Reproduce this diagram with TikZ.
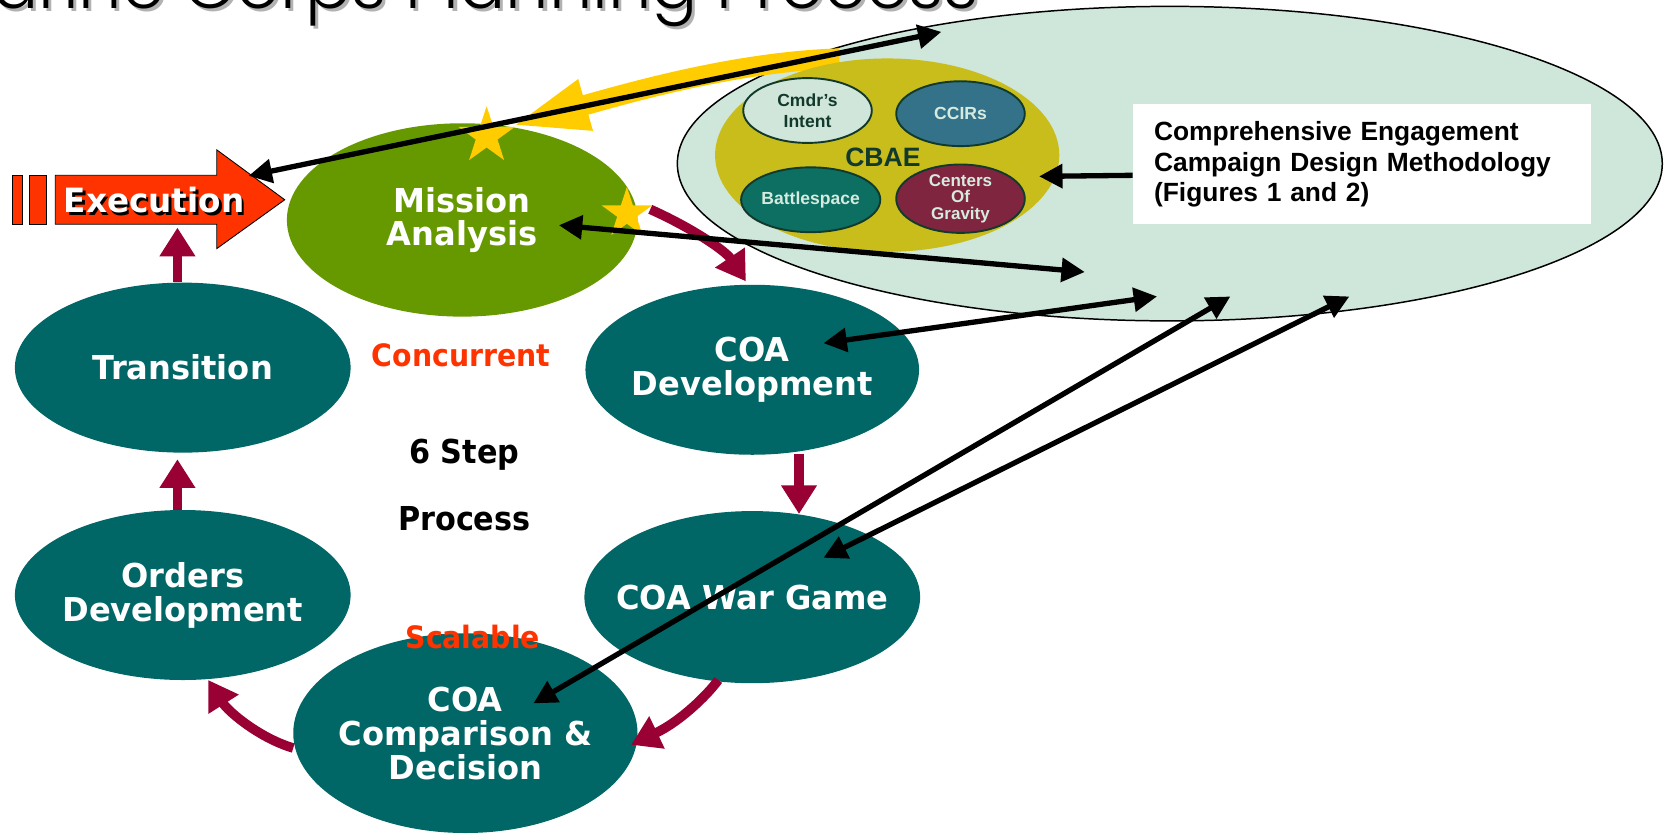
\documentclass[tikz,border=0pt]{standalone}
\usepackage{fontspec}
\usetikzlibrary{shapes.geometric,arrows.meta,calc}
\newfontfamily\nfont[FakeStretch=0.975]{DejaVu Sans}
\newfontfamily\lfont[FakeStretch=0.92]{DejaVu Sans}
\newfontfamily\afont{Liberation Sans}
\newfontfamily\ttlfont{Poppins Light}
\definecolor{cBig}{HTML}{CFE6DA}
\definecolor{cCBAE}{HTML}{C9BD1C}
\definecolor{cCmdr}{HTML}{D0E6DA}
\definecolor{cCCIR}{HTML}{347289}
\definecolor{cBattle}{HTML}{0D6E62}
\definecolor{cCOG}{HTML}{7F2540}
\definecolor{cTeal}{HTML}{006666}
\definecolor{cGreen}{HTML}{669900}
\definecolor{cMaroon}{HTML}{990033}
\definecolor{cRed}{HTML}{FF3300}
\definecolor{cStar}{HTML}{FFCC00}
\definecolor{cDark}{HTML}{123A2C}
\definecolor{cLight}{HTML}{D5EBDF}
\tikzset{
  stepnode/.style={ellipse, fill=cTeal, inner sep=0pt},
  steptext/.style={text=white, align=center, inner sep=0pt,
    font=\nfont\bfseries\fontsize{31}{32}\selectfont},
  subnode/.style={ellipse, draw=cDark, line width=1.8pt, inner sep=0pt,
    minimum width=121pt, minimum height=61pt, align=center},
  blkarr/.style={line width=5pt, draw=black,
    {Triangle[length=22pt,width=22pt]}-{Triangle[length=22pt,width=22pt]}},
  blkone/.style={line width=5pt, draw=black, -{Triangle[length=22pt,width=22pt]}},
  mararr/.style={line width=9pt, draw=cMaroon, -{Triangle[length=27pt,width=32pt]}},
  redlbl/.style={text=cRed, font=\lfont\bfseries\fontsize{29}{30}\selectfont},
  blklbl/.style={text=black, font=\lfont\bfseries\fontsize{31}{32}\selectfont},
  starnode/.style={star, star points=5, star point ratio=2.6, fill=cStar, inner sep=0pt}
}
\begin{document}
\begin{tikzpicture}[x=1pt,y=-1pt]
\useasboundingbox (0,0) rectangle (1568,785);

% title (cut off at the top)
\node[anchor=base west, inner sep=0pt, text=black!30, font=\ttlfont\fontsize{64.5}{66}\selectfont] (titleshadow) at (-59,11) {Marine Corps Planning Process};
\node[anchor=base west, inner sep=0pt, text=black, font=\ttlfont\fontsize{64.5}{66}\selectfont] (title) at (-62,8) {Marine Corps Planning Process};

% big ellipse
\node[ellipse, draw=black, line width=1.4pt, fill=cBig, minimum width=927pt, minimum height=296pt, inner sep=0pt] (big) at (1101,154) {};

% yellow curved arrow
\draw[cStar, line width=19pt, -{Triangle[length=74pt,width=44pt]}] (790,55) .. controls (700,58) and (610,82) .. (480,119);

% CBAE
\node[ellipse, fill=cCBAE, minimum width=324pt, minimum height=182pt, inner sep=0pt] (cbae) at (835,146) {};
\node[text=cDark, font=\afont\bfseries\fontsize{25}{27}\selectfont, inner sep=0pt] (cbaelbl) at (831,148) {CBAE};
\node[subnode, fill=cCmdr, text=cDark, font=\afont\bfseries\fontsize{16.5}{19.5}\selectfont] (cmdr) at (760,104) {Cmdr’s\\Intent};
\node[subnode, fill=cCCIR, text=cLight, font=\afont\bfseries\fontsize{16.5}{18}\selectfont] (ccir) at (904,107) {CCIRs};
\node[subnode, fill=cBattle, text=cLight, font=\afont\bfseries\fontsize{16.5}{17}\selectfont] (battle) at (763,188) {Battlespace};
\node[subnode, fill=cCOG, text=cLight, font=\afont\bfseries\fontsize{16}{15.5}\selectfont] (cog) at (904,187) {Centers\\Of\\Gravity};

% white box
\node[fill=white, anchor=north west, minimum width=431pt, minimum height=113pt, inner xsep=20pt, inner ysep=0pt,
  text width=391pt, align=left, font=\afont\bfseries\fontsize{24.8}{28.5}\selectfont] (box) at (1066,98)
  {Comprehensive Engagement\\Campaign Design Methodology\\(Figures 1 and 2)};

% execution arrow
\draw[fill=cRed, line width=0.8pt] (12,165) rectangle (21,211);
\draw[fill=cRed, line width=0.8pt] (28,165) rectangle (44,211);
\draw[fill=cRed, line width=0.8pt] (52,165) -- (204,165) -- (204,141) -- (268,188) -- (204,234) -- (204,211) -- (52,211) -- cycle;
\node[inner sep=0pt, minimum width=152pt, minimum height=46pt] (execbody) at (128,188) {};
\node[text=black, font=\nfont\bfseries\fontsize{31.5}{32}\selectfont, inner sep=0pt] (execshadow) at (147.5,191) {Execution};
\node[text=white, font=\nfont\bfseries\fontsize{31.5}{32}\selectfont, inner sep=0pt] (exec) at (145,188.5) {Execution};

% mission analysis
\node[ellipse, fill=cGreen, inner sep=0pt, minimum width=330pt, minimum height=182pt] (ma) at (435,207) {};
\node[steptext, font=\nfont\bfseries\fontsize{31}{31}\selectfont] (matext) at (ma) {Mission\\Analysis};

% step nodes
\node[stepnode, minimum width=316pt, minimum height=160pt] (tr) at (172,346) {};
\node[steptext] (trtext) at (tr) {Transition};
\node[stepnode, minimum width=316pt, minimum height=160pt] (od) at (172,560) {};
\node[steptext] (odtext) at (od) {Orders\\Development};
\node[stepnode, minimum width=314pt, minimum height=160pt] (cd) at (708,348) {};
\node[steptext] (cdtext) at (cd) {COA\\Development};
\node[stepnode, minimum width=316pt, minimum height=162pt] (wg) at (708,562) {};
\node[steptext] (wgtext) at (wg) {COA War Game};
\node[stepnode, minimum width=324pt, minimum height=188pt] (cmp) at (438,690) {};
\node[steptext] (cmptext) at (cmp) {COA\\Comparison \&\\Decision};

% labels
\node[redlbl] (conc) at (434,334) {Concurrent};
\node[redlbl] (scal) at (445,600) {Scalable};
\node[blklbl] (six) at (437,428) {6 Step};
\node[blklbl] (proc) at (437,488) {Process};

% maroon process arrows
\draw[mararr] ($(tr.north)+(-5,0)$) -- ($(execbody.south)+(39,3)$);
\draw[mararr] ($(od.north)+(-5,0)$) -- ($(tr.south)+(-5,6)$);
\draw[mararr] ($(cd.south)+(44,-1)$) -- ($(wg.north)+(44,3)$);
\draw[mararr] ($(ma)+(177,-10)$) .. controls ($(ma)+(213,6)$) and ($(ma)+(247,28)$) .. ($(cd.north)+(-6,-3)$);
\draw[mararr] ($(wg)+(-32,78)$) .. controls ($(wg)+(-43,93)$) and ($(wg)+(-68,117)$) .. ($(cmp)+(156,11)$);
\draw[mararr] ($(cmp)+(-162,14)$) .. controls ($(cmp)+(-193,5)$) and ($(cmp)+(-223,-20)$) .. ($(od)+(24,80)$);

% stars
\node[starnode, minimum size=56pt] (star1) at (458,128) {};
\node[starnode, minimum size=50pt] (star2) at (590,201) {};

% black links
\draw[blkarr] ($(exec)+(89,-23)$) -- ($(big)+(-215,-124)$);
\draw[blkone] (box.west |- cbae.east) ++(0,19) coordinate (boxend) -- ($(cbae)+(143,20)$);
\draw[blkarr] ($(ma)+(91,5)$) -- ($(big)+(-80,102)$);
\draw[blkarr] ($(cd)+(67,-25)$) -- ($(big)+(-12,125)$);
\draw[blkarr] ($(wg)+(67,-37)$) -- ($(big)+(169,125)$);
\draw[blkarr] ($(cmp)+(64,-28)$) -- ($(big)+(57,125)$);
\end{tikzpicture}
\end{document}
